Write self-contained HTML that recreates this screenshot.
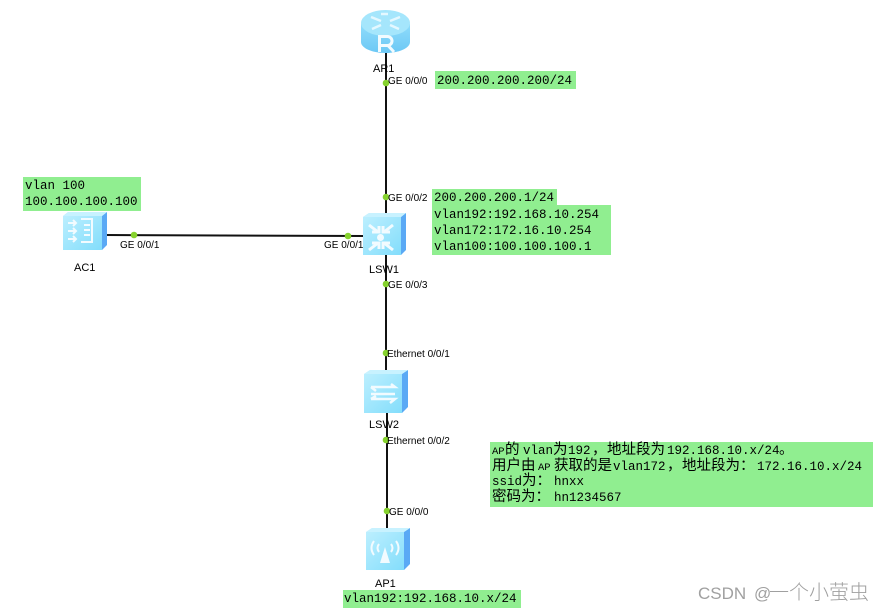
<!DOCTYPE html>
<html><head><meta charset="utf-8">
<style>
html,body{margin:0;padding:0;background:#fff;width:885px;height:612px;overflow:hidden}
svg{display:block}
.p{font-family:"Liberation Sans",sans-serif;font-size:10px;fill:#000}
.n{font-family:"Liberation Sans",sans-serif;font-size:11px;fill:#000}
.m{font-family:"Liberation Mono","Noto Sans CJK SC",monospace;font-size:12.5px;fill:#000}
.c{font-family:"Liberation Mono","WenQuanYi Zen Hei","Noto Sans CJK SC",monospace;font-size:12.5px;fill:#000}
.c tspan.z{font-size:14.500px}
.c tspan.a{font-size:10.500px}
</style></head>
<body>
<svg width="885" height="612" viewBox="0 0 885 612" xmlns="http://www.w3.org/2000/svg">
<defs>
<linearGradient id="g" x1="0" y1="0" x2="1" y2="1"><stop offset="0" stop-color="#bff0ff"/><stop offset="1" stop-color="#7fdcfb"/></linearGradient>
<linearGradient id="r" x1="0" y1="0" x2="0" y2="1"><stop offset="0" stop-color="#8fdcfb"/><stop offset="1" stop-color="#6cc8f5"/></linearGradient>
</defs>
<rect x="435" y="71" width="141" height="18" fill="#90ee90"/>
<rect x="432" y="189" width="125" height="16" fill="#90ee90"/>
<rect x="432" y="205" width="179" height="50" fill="#90ee90"/>
<rect x="23" y="177" width="118" height="34" fill="#90ee90"/>
<rect x="490" y="442" width="383" height="65" fill="#90ee90"/>
<rect x="343" y="590" width="178" height="18" fill="#90ee90"/>

<line x1="386" y1="50" x2="386" y2="215" stroke="#111" stroke-width="2"/>
<line x1="386" y1="255" x2="386" y2="375" stroke="#111" stroke-width="2"/>
<line x1="387" y1="410" x2="387" y2="530" stroke="#111" stroke-width="2"/>
<line x1="105" y1="235" x2="365" y2="236" stroke="#111" stroke-width="2"/>

<!-- AR1 -->
<path d="M361 24v18c0 6 11 11 24.500 11s24.500-5 24.500-11V24z" fill="url(#r)"/>
<ellipse cx="385.500" cy="23" rx="24.500" ry="13" fill="#a5e6fc"/>
<g stroke="#e4f8ff" stroke-width="2.500" fill="none"><path d="M371 17l10 4M400 17l-10 4M372 29l9-4M399 29l-9-4M381 14h7"/></g>
<path d="M379.500 52V36.500h8a4.500 4.500 0 0 1 0 9h-8M388 45.500l6 6.500" fill="none" stroke="#f2fbff" stroke-width="3"/>

<!-- AC1 -->
<path d="M63 216l5-4h39v4l-5 34H63z" fill="url(#g)"/>
<path d="M102 216l5-4v33l-5 5z" fill="#5aa9f5"/>
<path d="M63 216l5-4h39l-5 4z" fill="#c8f2ff"/>
<g stroke="#f2fbff" stroke-width="2" fill="none"><path d="M68 223h8M73 220l3 3-3 3M68 231h8M73 228l3 3-3 3M68 239h8M73 236l3 3-3 3M81 219h11v23H81M84 225h6M84 230h6M84 235h6"/></g>

<!-- LSW1 -->
<path d="M363 217l6-4h37v4l-5 38H363z" fill="url(#g)"/>
<path d="M401 217l5-4v37l-5 5z" fill="#5aa9f5"/>
<path d="M363 217l6-4h37l-5 4z" fill="#c8f2ff"/>
<g stroke="#f2fbff" stroke-width="3" fill="none"><path d="M369 225l9 7M393 225l-9 7M369 250l9-7M393 250l-9-7M372 232h7v-6M390 232h-7v-6M372 243h7v6M390 243h-7v6"/></g>
<circle cx="380.500" cy="237.500" r="3.500" fill="#f2fbff"/>

<!-- LSW2 -->
<path d="M364 374l6-4h38v4l-6 39H364z" fill="url(#g)"/>
<path d="M402 374l6-4v37l-6 6z" fill="#5aa9f5"/>
<path d="M364 374l6-4h38l-6 4z" fill="#c8f2ff"/>
<g stroke="#f2fbff" stroke-width="2.500" fill="none"><path d="M371 387h24l-4-3M371 387l5 4M371 394h24M371 399h24l-5 4M371 399l5-3"/></g>

<!-- AP -->
<path d="M366 532l6-4h38v4l-6 38H366z" fill="url(#g)"/>
<path d="M404 532l6-4v36l-6 6z" fill="#5aa9f5"/>
<path d="M366 532l6-4h38l-6 4z" fill="#c8f2ff"/>
<g stroke="#f2fbff" stroke-width="2" fill="none"><path d="M374 541q-5 7 0 14M396 541q5 7 0 14M379 544q-3 4 0 8M391 544q3 4 0 8"/></g>
<path d="M385 547l-5 16h10z" fill="#f2fbff"/>

<!-- dots -->
<g fill="#86d22e">
<circle cx="386" cy="83" r="3.300"/><circle cx="386" cy="197" r="3.300"/><circle cx="386" cy="284" r="3.300"/><circle cx="386" cy="353" r="3.300"/><circle cx="386" cy="440" r="3.300"/><circle cx="387" cy="511" r="3.300"/><circle cx="134" cy="235" r="3.300"/><circle cx="348" cy="236" r="3.300"/>
</g>

<!-- port labels -->
<text class="p" x="388" y="84">GE 0/0/0</text>
<text class="p" x="388" y="201">GE 0/0/2</text>
<text class="p" x="388" y="288">GE 0/0/3</text>
<text class="p" x="387" y="357">Ethernet 0/0/1</text>
<text class="p" x="387" y="444">Ethernet 0/0/2</text>
<text class="p" x="389" y="515">GE 0/0/0</text>
<text class="p" x="120" y="248">GE 0/0/1</text>
<text class="p" x="324" y="248">GE 0/0/1</text>

<!-- node labels -->
<text class="n" x="373" y="72">AR1</text>
<text class="n" x="74" y="271">AC1</text>
<text class="n" x="369" y="273">LSW1</text>
<text class="n" x="369" y="428">LSW2</text>
<text class="n" x="375" y="587">AP1</text>

<!-- notes -->
<text class="m" x="437" y="84">200.200.200.200/24</text>
<text class="m" x="434" y="201">200.200.200.1/24</text>
<text class="m" x="434" y="218">vlan192:192.168.10.254</text>
<text class="m" x="434" y="234">vlan172:172.16.10.254</text>
<text class="m" x="434" y="250">vlan100:100.100.100.1</text>
<text class="m" x="25" y="189">vlan 100</text>
<text class="m" x="25" y="205">100.100.100.100</text>
<text class="m" x="344" y="602">vlan192:192.168.10.x/24</text>

<text class="c" y="454"><tspan class="a" x="492">AP</tspan><tspan class="z" x="505">的</tspan><tspan x="523">vlan</tspan><tspan class="z" x="553">为</tspan><tspan x="568">192</tspan><tspan class="z" x="592">，</tspan><tspan class="z" x="607">地址段为</tspan><tspan x="667">192.168.10.x/24</tspan><tspan class="z" x="779">。</tspan></text>
<text class="c" y="470"><tspan class="z" x="492">用户由</tspan><tspan class="a" x="538">AP</tspan><tspan class="z" x="554">获取的是</tspan><tspan x="613">vlan172</tspan><tspan class="z" x="667">，</tspan><tspan class="z" x="682">地址段为：</tspan><tspan x="757">172.16.10.x/24</tspan></text>
<text class="c" y="485"><tspan x="492">ssid</tspan><tspan class="z" x="522">为：</tspan><tspan x="554">hnxx</tspan></text>
<text class="c" y="501"><tspan class="z" x="492">密码为：</tspan><tspan x="554">hn1234567</tspan></text>

<text y="599" font-family="'Liberation Sans','Noto Sans CJK SC',sans-serif" font-size="17" fill="#a0a0a0"><tspan x="698">CSDN</tspan><tspan x="754">@</tspan><tspan x="769" font-size="20" font-weight="300">一个小萤虫</tspan></text>
</svg>
</body></html>
